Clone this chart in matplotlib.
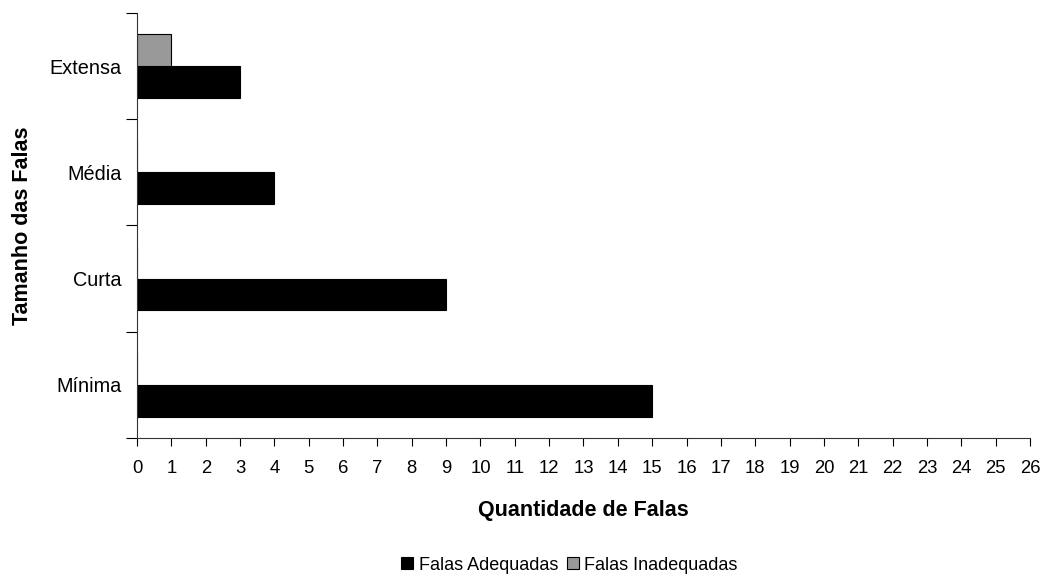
import matplotlib.pyplot as plt
import numpy as np

plt.rcParams['font.family'] = ['Liberation Sans', 'DejaVu Sans']

categorias = ['Mínima', 'Curta', 'Média', 'Extensa']
adequadas = [15, 9, 4, 3]
inadequadas = [0, 0, 0, 1]

fig = plt.figure(figsize=(10.45, 5.75), dpi=100)
ax = fig.add_axes([0.1311, 0.2383, 0.8545, 0.7391])

y = np.arange(len(categorias))
h = 0.3
ax.barh(y - h / 2, adequadas, height=h, color='black', edgecolor='black',
        linewidth=0.8, label='Falas Adequadas')
ax.barh(y + h / 2, inadequadas, height=h, color='#999999', edgecolor='black',
        linewidth=0.8, label='Falas Inadequadas')

ax.set_xlim(0, 26)
ax.set_ylim(-0.5, len(categorias) - 0.5)
ax.set_xticks(range(0, 27))

# ticks de categoria entre os grupos, rótulos no centro
ax.set_yticks(np.arange(-0.5, len(categorias), 1.0))
ax.set_yticklabels([])
ax.set_yticks(y, minor=True)
ax.set_yticklabels(categorias, minor=True)
ax.tick_params(axis='y', which='minor', length=0, pad=10.8, labelsize=14.3)
ax.tick_params(axis='y', which='major', length=8, width=0.8, direction='out')
ax.tick_params(axis='x', length=6, width=0.8, direction='out', labelsize=13.3, pad=9.5)

for s in ['top', 'right']:
    ax.spines[s].set_visible(False)
for s in ['left', 'bottom']:
    ax.spines[s].set_color('#333333')
    ax.spines[s].set_linewidth(0.8)

ax.set_xlabel('Quantidade de Falas', fontsize=15.5, fontweight='bold')
ax.set_ylabel('Tamanho das Falas', fontsize=15.5, fontweight='bold')
ax.xaxis.set_label_coords(0.5, -0.146)
ax.yaxis.set_label_coords(-0.117, 0.5)

fig.legend(loc='center', bbox_to_anchor=(0.545, 0.017), ncol=2, frameon=False,
           fontsize=13, handlelength=0.65, handleheight=0.65, handletextpad=0.3,
           columnspacing=0.5, borderpad=0)

plt.savefig('out.png', dpi=100)
